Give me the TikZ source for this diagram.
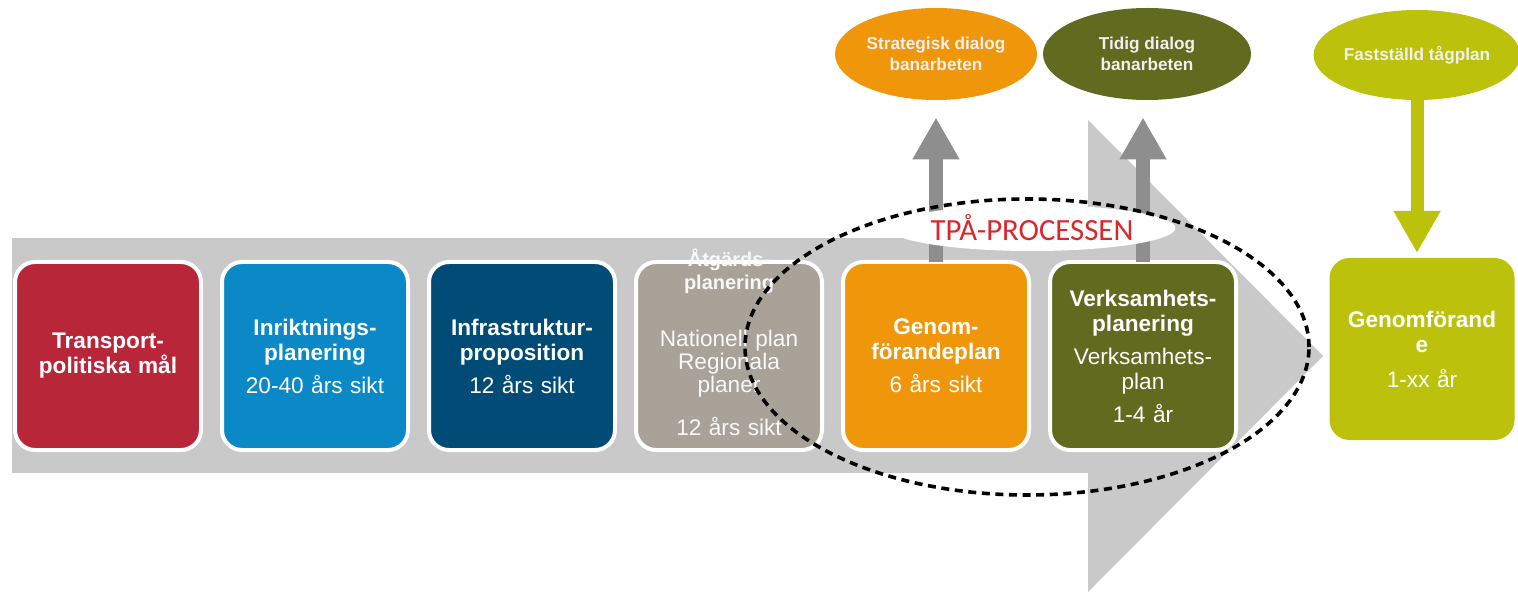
\documentclass[tikz,border=0pt]{standalone}
\usepackage{fontspec}
\setmainfont{Liberation Sans}
\newfontfamily\tpafont{Carlito}
\usetikzlibrary{arrows.meta,positioning,shapes.geometric}
\definecolor{PlanRed}{HTML}{B8263A}
\definecolor{PlanBlue}{HTML}{0A89C6}
\definecolor{PlanNavy}{HTML}{004C76}
\definecolor{PlanStone}{HTML}{A9A299}
\definecolor{PlanOrange}{HTML}{F0960A}
\definecolor{PlanOlive}{HTML}{606B20}
\definecolor{PlanLime}{HTML}{BCC20C}
\definecolor{PlanBand}{HTML}{C9C9C9}
\definecolor{PlanArrow}{HTML}{8E8E8E}
\definecolor{PlanText}{HTML}{D8282C}

\begin{document}
\begin{tikzpicture}[x=0.5pt,y=-0.5pt,node distance=10.5pt]
    \tikzset{planbox/.style={rounded corners=10pt,draw=white,line width=2pt,outer sep=0pt,
      minimum width=93pt,minimum height=94pt,text width=86pt,inner xsep=2pt,align=center,
      text=white,font=\fontsize{11.3}{12.5}\selectfont},
      stonetext/.style={text width=86pt,align=center,text=white!92!PlanStone,
      font=\fontsize{11.3}{11.5}\selectfont},
      dialog/.style={ellipse,minimum width=101pt,minimum height=46pt,inner sep=0pt,
      align=center,text=white!94!black,font=\fontsize{8.6}{10.5}\selectfont\bfseries},
      uparrow/.style={-{Triangle[length=21pt,width=22pt]},PlanArrow,line width=7pt,shorten >=8.5pt}}
    \useasboundingbox (0,0) rectangle (1518,592);
    % the big grey arrow behind the boxes
    \fill[PlanBand] (12,238) rectangle (1088,473);
    \fill[PlanBand] (1088,120) -- (1323,356) -- (1088,592) -- cycle;
    \node[dialog,fill=PlanOrange] (strat) at (936,54) {Strategisk dialog\\banarbeten};
    \node[dialog,fill=PlanOlive,minimum width=104pt] (tidig) at (1147,54) {Tidig dialog\\banarbeten};
    \node[dialog,fill=PlanLime,minimum height=45pt] (tagplan) at (1417,55) {Fastställd tågplan};
    \node[planbox,fill=PlanRed] (mal) at (108,356) {\textbf{Transport-\\politiska mål}};
    \node[planbox,fill=PlanBlue,right=of mal] (inrikt) {\textbf{Inriktnings-\\planering}\\[4pt]20-40 års sikt};
    \node[planbox,fill=PlanNavy,right=of inrikt] (infra) {\textbf{Infrastruktur-\\proposition}\\[4pt]12 års sikt};
    \node[planbox,fill=PlanStone,right=of infra,
      label={[stonetext,yshift=7pt]center:{{\fontsize{10}{9.5}\selectfont\bfseries
      Åtgärds-\\planering}\\[17pt]Nationell plan\\Regionala\\planer\\[10pt]12 års sikt}}] (atgard) {};
    \node[planbox,fill=PlanOrange,right=of atgard] (genom) {\textbf{Genom-\\förandeplan}\\[4pt]6 års sikt};
    \node[planbox,fill=PlanOlive,right=of genom] (verks)
      {\textbf{Verksamhets-\\planering}\\[4pt]Verksamhets-\\plan\\[4pt]1-4 år};
    \node[planbox,fill=PlanLime,draw=none,minimum width=92.5pt,minimum height=91pt] (genomf)
      at (1422,349) {\textbf{Genomförand\\e}\\[5pt]1-xx år};
    \draw[uparrow] (genom.north) -- (genom.north |- strat.south);
    \draw[uparrow] (verks.north) -- (verks.north |- tidig.south);
    \draw[-{Triangle[length=21pt,width=22pt]},PlanLime,line width=6.5pt,shorten >=2.5pt]
      (tagplan.south) -- (tagplan.south |- genomf.north);
    \node[ellipse,fill=white,minimum width=125pt,minimum height=23pt,inner sep=0pt,
      text=PlanText,font=\tpafont\fontsize{15.4}{16}\selectfont] (tpalabel) at (1032,228) {TPÅ-PROCESSEN};
    \node[ellipse,draw,line width=1.8pt,dash pattern=on 4pt off 2.8pt,
      minimum width=282pt,minimum height=148pt] (tpa) at (1027,347) {};
  \end{tikzpicture}
\end{document}
